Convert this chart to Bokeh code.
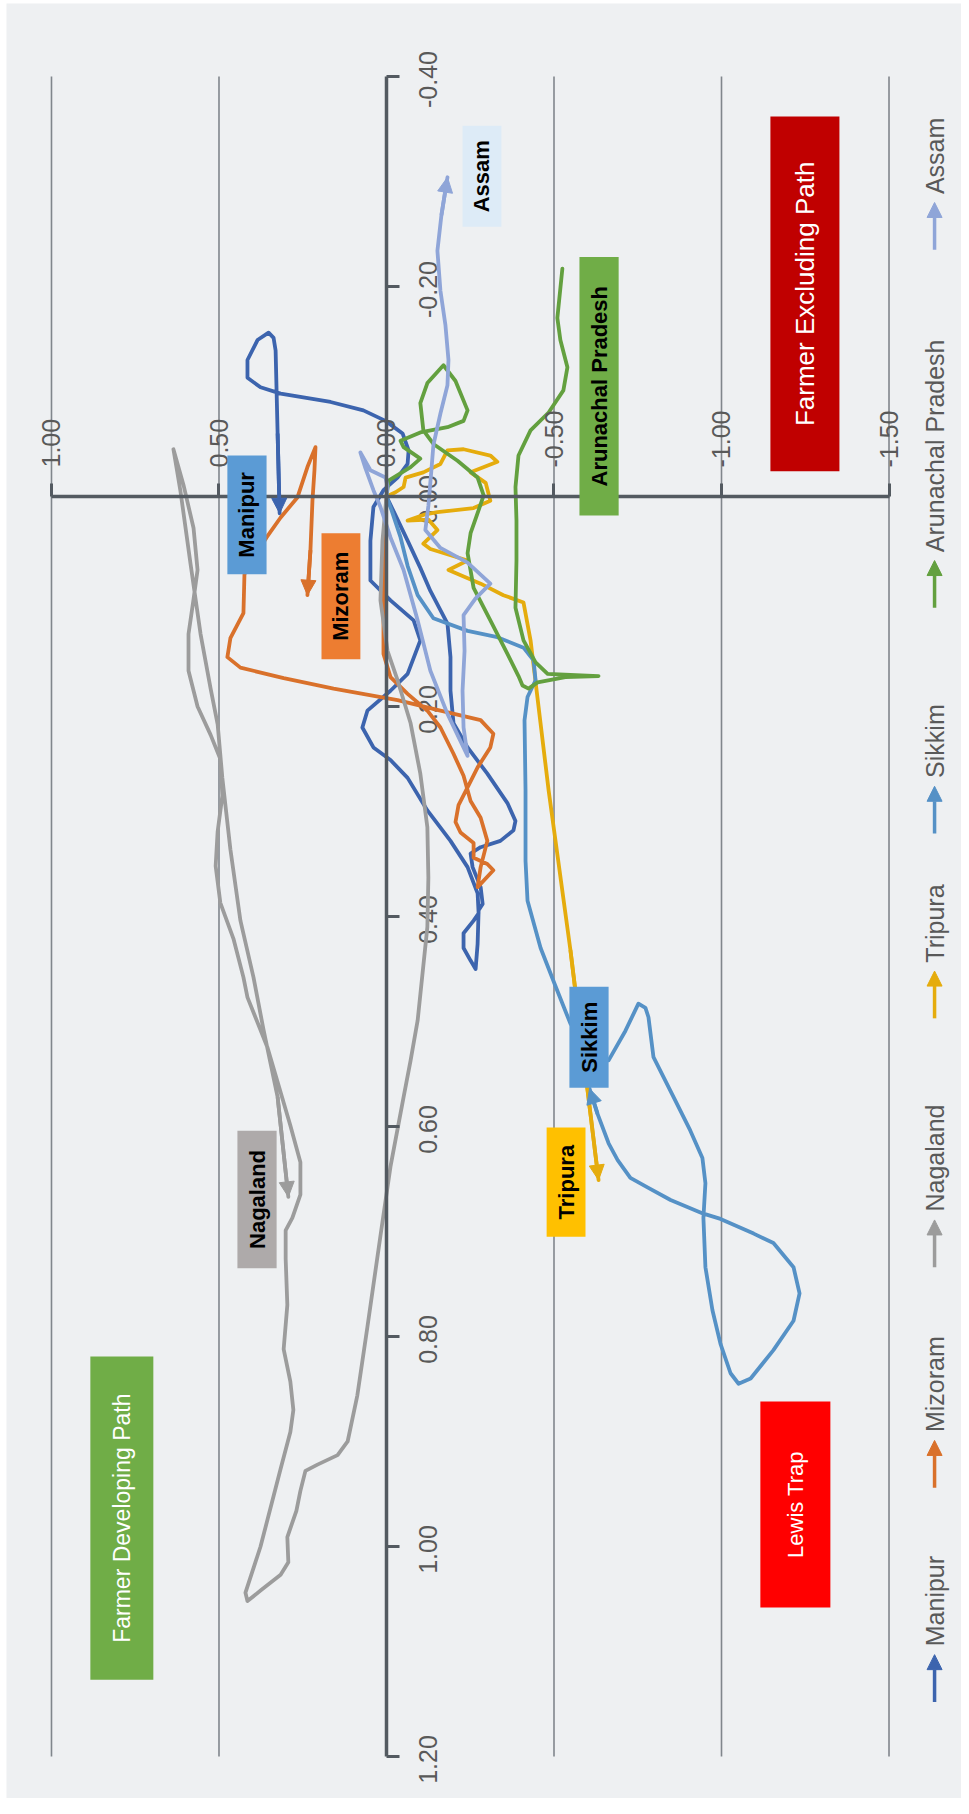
import math
from bokeh.plotting import figure
from bokeh.models import (Range1d, LinearAxis, FixedTicker, PrintfTickFormatter,
                          BoxAnnotation, Label, Arrow, NormalHead)
from bokeh.core.properties import value
from bokeh.embed import file_html
from bokeh.resources import INLINE

# ---------------- data (h = horizontal value, v = vertical value) ----------------
h_ticks = [1.0, 0.5, 0.0, -0.5, -1.0, -1.5]
v_ticks = [-0.4, -0.2, 0.0, 0.2, 0.4, 0.6, 0.8, 1.0, 1.2]

states = ["Manipur", "Mizoram", "Nagaland", "Tripura", "Sikkim", "Arunachal Pradesh", "Assam"]

manipur_h = [0, -0.027, -0.063, -0.101, -0.131, -0.182, -0.191, -0.191, -0.200, -0.242, -0.301, -0.361,
             -0.385, -0.379, -0.340, -0.281, -0.251, -0.257, -0.281, -0.287, -0.275, -0.272, -0.266, -0.251,
             -0.230, -0.230, -0.260, -0.275, -0.272, -0.242, -0.191, -0.122, -0.063, -0.012, 0.039, 0.072,
             0.057, -0.012, -0.063, -0.101, -0.081, -0.012, 0.048, 0.048, 0.039, 0.009, -0.033, -0.063,
             -0.066, -0.048, 0.003, 0.069, 0.167, 0.316, 0.376, 0.415, 0.415, 0.385, 0.352, 0.337, 0.331,
             0.325, 0.319]
manipur_v = [0, 0.018, 0.042, 0.068, 0.090, 0.121, 0.153, 0.185, 0.216, 0.239, 0.264, 0.292, 0.309, 0.318,
             0.328, 0.334, 0.340, 0.353, 0.372, 0.388, 0.394, 0.426, 0.450, 0.442, 0.430, 0.416, 0.404, 0.397,
             0.378, 0.353, 0.328, 0.299, 0.268, 0.251, 0.239, 0.220, 0.204, 0.185, 0.169, 0.137, 0.118, 0.099,
             0.080, 0.042, 0.010, -0.006, -0.018, -0.031, -0.044, -0.060, -0.072, -0.082, -0.090, -0.098,
             -0.104, -0.113, -0.130, -0.149, -0.156, -0.151, -0.139, -0.060, 0.016]

mizoram_h = [0, 0.006, 0.009, 0.009, -0.012, -0.063, -0.122, -0.161, -0.200, -0.230, -0.251, -0.281, -0.301,
             -0.281, -0.272, -0.319, -0.301, -0.260, -0.260, -0.221, -0.206, -0.215, -0.242, -0.272, -0.310,
             -0.319, -0.281, -0.161, -0.033, 0.158, 0.307, 0.436, 0.475, 0.466, 0.427, 0.424, 0.391, 0.358,
             0.316, 0.266, 0.236, 0.212, 0.215, 0.221, 0.227, 0.236]
mizoram_v = [0, 0.042, 0.099, 0.150, 0.172, 0.188, 0.204, 0.220, 0.245, 0.266, 0.290, 0.306, 0.328, 0.353,
             0.372, 0.356, 0.350, 0.344, 0.330, 0.320, 0.310, 0.294, 0.277, 0.258, 0.239, 0.226, 0.213, 0.204,
             0.194, 0.183, 0.173, 0.163, 0.153, 0.135, 0.111, 0.074, 0.056, 0.039, 0.020, 0.001, -0.028,
             -0.047, -0.025, 0.004, 0.051, 0.094]

nagaland_h = [0, 0.012, 0.018, -0.003, -0.033, -0.072, -0.101, -0.122, -0.125, -0.122, -0.107, -0.093, -0.072,
              -0.051, -0.012, 0.018, 0.057, 0.087, 0.116, 0.146, 0.206, 0.242, 0.257, 0.269, 0.296, 0.293,
              0.316, 0.376, 0.415, 0.421, 0.376, 0.316, 0.287, 0.278, 0.287, 0.307, 0.296, 0.301, 0.301,
              0.281, 0.257, 0.257, 0.287, 0.355, 0.415, 0.427, 0.457, 0.496, 0.510, 0.504, 0.490, 0.496,
              0.525, 0.564, 0.591, 0.591, 0.576, 0.564, 0.576, 0.606, 0.636, 0.615, 0.585, 0.555, 0.525,
              0.504, 0.490, 0.466, 0.436, 0.397, 0.367, 0.325, 0.293]
nagaland_v = [0, 0.042, 0.099, 0.147, 0.175, 0.216, 0.264, 0.315, 0.363, 0.410, 0.456, 0.499, 0.537, 0.572,
              0.638, 0.704, 0.791, 0.856, 0.900, 0.913, 0.922, 0.928, 0.947, 0.966, 0.991, 1.015, 1.027,
              1.042, 1.052, 1.044, 1.000, 0.926, 0.891, 0.870, 0.843, 0.812, 0.770, 0.726, 0.699, 0.687,
              0.665, 0.634, 0.599, 0.525, 0.477, 0.458, 0.421, 0.387, 0.352, 0.319, 0.285, 0.250, 0.227,
              0.200, 0.166, 0.131, 0.098, 0.070, 0.030, -0.011, -0.045, -0.005, 0.064, 0.131, 0.183, 0.217,
              0.268, 0.336, 0.404, 0.458, 0.508, 0.572, 0.667]

tripura_h = [0, -0.027, -0.051, -0.057, -0.110, -0.161, -0.182, -0.230, -0.310, -0.331, -0.251, -0.296, -0.310,
             -0.260, -0.152, -0.116, -0.063, -0.125, -0.152, -0.110, -0.131, -0.242, -0.185, -0.281, -0.349,
             -0.409, -0.430, -0.484, -0.549, -0.633]
tripura_v = [0, -0.004, -0.009, -0.018, -0.023, -0.031, -0.044, -0.045, -0.039, -0.033, -0.023, -0.013, 0.004,
             0.011, 0.015, 0.017, 0.023, 0.022, 0.032, 0.045, 0.050, 0.061, 0.070, 0.083, 0.094, 0.101, 0.137,
             0.280, 0.432, 0.651]

sikkim_h = [0, -0.015, -0.042, -0.063, -0.093, -0.140, -0.242, -0.331, -0.409, -0.439, -0.445, -0.421, -0.412,
            -0.415, -0.415, -0.421, -0.460, -0.504, -0.549, -0.609, -0.663, -0.713, -0.752, -0.773, -0.782,
            -0.797, -0.857, -0.907, -0.943, -0.952, -0.946, -0.952, -0.973, -0.997, -1.027, -1.051, -1.087,
            -1.155, -1.215, -1.233, -1.215, -1.155, -1.096, -0.997, -0.946, -0.848, -0.779, -0.728, -0.690,
            -0.663, -0.630, -0.606]
sikkim_v = [0, 0.013, 0.039, 0.066, 0.094, 0.116, 0.128, 0.134, 0.144, 0.156, 0.175, 0.191, 0.213, 0.280,
            0.347, 0.385, 0.430, 0.466, 0.502, 0.528, 0.537, 0.509, 0.483, 0.487, 0.496, 0.534, 0.572, 0.604,
            0.630, 0.654, 0.687, 0.734, 0.775, 0.807, 0.835, 0.845, 0.840, 0.813, 0.785, 0.759, 0.734, 0.711,
            0.702, 0.688, 0.683, 0.670, 0.658, 0.649, 0.632, 0.616, 0.588, 0.564]

arunachal_h = [0, -0.006, -0.072, -0.101, -0.051, -0.042, -0.101, -0.182, -0.230, -0.242, -0.206, -0.170,
               -0.122, -0.101, -0.110, -0.140, -0.212, -0.272, -0.290, -0.275, -0.251, -0.242, -0.260, -0.310,
               -0.361, -0.394, -0.406, -0.424, -0.451, -0.534, -0.633, -0.549, -0.481, -0.445, -0.409, -0.385,
               -0.388, -0.388, -0.385, -0.394, -0.430, -0.484, -0.528, -0.540, -0.519, -0.510, -0.525]
arunachal_v = [0, -0.015, -0.028, -0.036, -0.047, -0.053, -0.061, -0.066, -0.072, -0.082, -0.110, -0.125,
               -0.108, -0.089, -0.063, -0.050, -0.034, -0.018, -0.001, 0.013, 0.035, 0.054, 0.087, 0.118, 0.150,
               0.171, 0.180, 0.183, 0.177, 0.172, 0.171, 0.170, 0.169, 0.158, 0.137, 0.106, 0.061, 0.023,
               -0.009, -0.039, -0.063, -0.080, -0.101, -0.123, -0.149, -0.170, -0.217]

assam_h = [0, -0.003, 0.003, 0.048, 0.078, 0.063, 0.039, 0.018, -0.012, -0.051, -0.093, -0.131, -0.182, -0.242,
           -0.230, -0.227, -0.233, -0.230, -0.266, -0.310, -0.242, -0.161, -0.116, -0.125, -0.134, -0.140,
           -0.161, -0.182, -0.185, -0.176, -0.161, -0.152, -0.164, -0.182]
assam_v = [0, -0.010, -0.018, -0.025, -0.042, -0.027, -0.006, 0.010, 0.039, 0.070, 0.118, 0.166, 0.207, 0.247,
           0.220, 0.185, 0.147, 0.113, 0.097, 0.083, 0.063, 0.049, 0.032, 0.009, -0.025, -0.049, -0.079,
           -0.106, -0.130, -0.163, -0.196, -0.234, -0.268, -0.304]

series = [
    ("Manipur", manipur_h, manipur_v),
    ("Mizoram", mizoram_h, mizoram_v),
    ("Nagaland", nagaland_h, nagaland_v),
    ("Tripura", tripura_h, tripura_v),
    ("Sikkim", sikkim_h, sikkim_v),
    ("Arunachal Pradesh", arunachal_h, arunachal_v),
    ("Assam", assam_h, assam_v),
]

# ---------------- styles ----------------
LINE_COL = {"Manipur": "#3C64AE", "Mizoram": "#D9712B", "Nagaland": "#9C9C9C", "Tripura": "#E5AC0D",
            "Sikkim": "#5591C6", "Arunachal Pradesh": "#63A03F", "Assam": "#8FA5D8"}
BG = "#EEF0F2"
AX = "#535A61"
GRID = "#80868C"
LBL = "#595959"
FONT = "Liberation Sans"
BFONT = "Liberation Sans"

p = figure(width=961, height=1798, output_backend="svg", toolbar_location=None,
           x_range=Range1d(1.1343, -1.7164), y_range=Range1d(1.2400, -0.4695),
           x_axis_type=None, y_axis_type=None,
           min_border_left=6, min_border_top=3, min_border_right=0, min_border_bottom=0,
           background_fill_color=BG, border_fill_color="white", outline_line_color=None)

# vertical grid lines (not at 0, which is the axis)
grid_h = [t for t in h_ticks if t != 0]
p.segment(x0=grid_h, y0=[min(v_ticks)] * len(grid_h), x1=grid_h, y1=[max(v_ticks)] * len(grid_h),
          line_color=GRID, line_width=1.6)

xa = LinearAxis(fixed_location=0, bounds=(min(h_ticks), max(h_ticks)),
                ticker=FixedTicker(ticks=h_ticks), formatter=PrintfTickFormatter(format="%.2f"),
                axis_line_color=AX, axis_line_width=3.5, major_tick_line_color=AX, major_tick_line_width=3,
                major_tick_out=13, major_tick_in=0, minor_tick_out=0, minor_tick_in=0,
                major_label_orientation="vertical", major_label_standoff=16,
                major_label_text_font=FONT, major_label_text_font_size="25px", major_label_text_color=LBL)
p.add_layout(xa, "above")

ya = LinearAxis(fixed_location=0, bounds=(min(v_ticks), max(v_ticks)),
                ticker=FixedTicker(ticks=v_ticks), formatter=PrintfTickFormatter(format="%.2f"),
                axis_line_color=AX, axis_line_width=3.5, major_tick_line_color=AX, major_tick_line_width=3,
                major_tick_out=13, major_tick_in=0, minor_tick_out=0, minor_tick_in=0,
                major_label_text_color=None, major_label_text_font_size="1px")
p.add_layout(ya, "right")

p.text(x=[0] * len(v_ticks), y=v_ticks, text=["%.2f" % t for t in v_ticks], angle=math.pi / 2,
       text_align="center", text_baseline="middle", x_offset=42, y_offset=3,
       text_font=value(FONT), text_font_size="25px", text_color=LBL)

# ---------------- series ----------------
for name, hs, vs in series:
    c = LINE_COL[name]
    p.line(hs, vs, line_color=c, line_width=3.8, line_join="round", line_cap="round")
    if name != "Arunachal Pradesh":
        p.add_layout(Arrow(end=NormalHead(size=15, fill_color=c, line_color=c, line_width=1),
                           x_start=hs[-2], y_start=vs[-2], x_end=hs[-1], y_end=vs[-1],
                           line_color=c, line_width=3.8))

# ---------------- annotation boxes ----------------
# (left, right, top, bottom, fill, text, text color, font, size, style)
boxes = [
    (0.475, 0.358, -0.039, 0.074, "#5B9BD5", "Manipur", "black", BFONT, "22px", "bold"),
    (0.194, 0.078, 0.035, 0.155, "#ED7D31", "Mizoram", "black", BFONT, "22px", "bold"),
    (0.445, 0.328, 0.604, 0.735, "#AEAAAA", "Nagaland", "black", BFONT, "22px", "bold"),
    (-0.478, -0.594, 0.601, 0.705, "#FFC000", "Tripura", "black", BFONT, "22px", "bold"),
    (-0.546, -0.663, 0.467, 0.563, "#5B9BD5", "Sikkim", "black", BFONT, "22px", "bold"),
    (-0.576, -0.693, -0.228, 0.018, "#70AD47", "Arunachal Pradesh", "black", BFONT, "22px", "bold"),
    (-0.227, -0.343, -0.353, -0.257, "#DDEBF7", "Assam", "black", BFONT, "22px", "bold"),
    (0.884, 0.696, 0.819, 1.127, "#70AD47", "Farmer Developing Path", "white", FONT, "23px", "normal"),
    (-1.116, -1.325, 0.862, 1.058, "#FF0000", "Lewis Trap", "white", FONT, "22px", "normal"),
    (-1.146, -1.352, -0.362, -0.024, "#C00000", "Farmer Excluding Path", "white", FONT, "26px", "normal"),
]
for l, r, t, b, fill, txt, tc, fnt, fs, fst in boxes:
    p.add_layout(BoxAnnotation(left=l, right=r, top=t, bottom=b, fill_color=fill, fill_alpha=1.0,
                               line_color=None))
    p.add_layout(Label(x=(l + r) / 2, y=(t + b) / 2, text=txt, angle=math.pi / 2,
                       text_align="center", text_baseline="middle", text_color=tc,
                       text_font=fnt, text_font_size=fs, text_font_style=fst))

# ---------------- legend ----------------
legend_h = -1.636
legend_start = [1.148, 0.944, 0.734, 0.497, 0.321, 0.106, -0.235]
for name, v0 in zip(states, legend_start):
    c = LINE_COL[name]
    p.add_layout(Arrow(end=NormalHead(size=15, fill_color=c, line_color=c, line_width=1),
                       x_start=legend_h, y_start=v0, x_end=legend_h, y_end=v0 - 0.045,
                       line_color=c, line_width=3.5))
    p.add_layout(Label(x=legend_h, y=v0 - 0.053, text=name, angle=math.pi / 2,
                       text_align="left", text_baseline="middle", text_color=LBL,
                       text_font=FONT, text_font_size="25px"))

open("out.html", "w").write(file_html(p, INLINE))
